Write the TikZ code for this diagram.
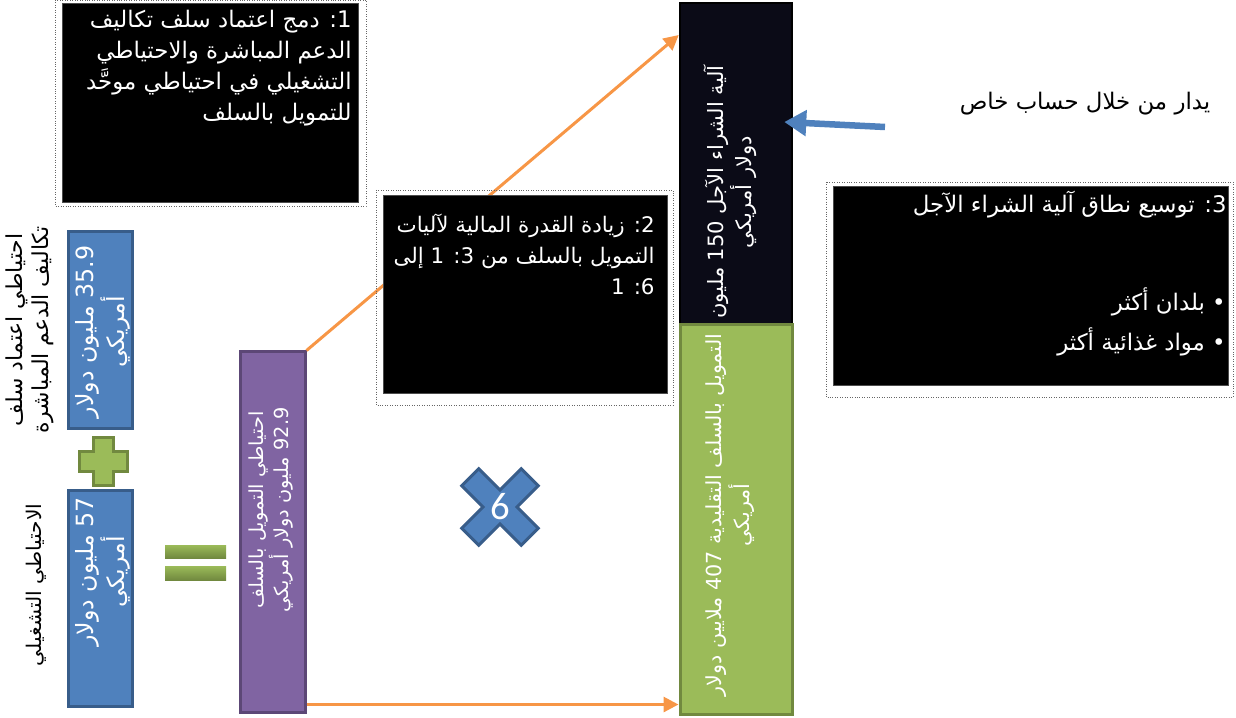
\documentclass[tikz,border=0pt]{standalone}
\usepackage{fontspec}
\usetikzlibrary{arrows.meta,positioning}
\TeXXeTstate=1
\setmainfont{DejaVu Sans}
\newfontfamily\arabicfont[Script=Arabic]{DejaVu Sans}
\newfontfamily\numfont{Carlito}
\newcommand\artext[1]{\beginR #1\endR}
\definecolor{boxblue}{HTML}{4F81BD}
\definecolor{boxblueline}{HTML}{385D8A}
\definecolor{boxpurple}{HTML}{8064A2}
\definecolor{boxpurpleline}{HTML}{5C4776}
\definecolor{boxgreen}{HTML}{9BBB59}
\definecolor{boxgreenline}{HTML}{71893F}
\definecolor{arroworange}{HTML}{F79646}
\definecolor{mechfill}{HTML}{0B0B17}

\begin{document}
\begin{tikzpicture}[x=0.2mm,y=-0.2mm,
  notebox/.style={fill=black,draw=black!70,inner sep=0pt},
  noteframe/.style={draw=black!60,densely dotted},
  notetext/.style={text=white,align=right,inner sep=0pt,
    font=\arabicfont\fontsize{13}{17.6}\selectfont},
  valuebox/.style={fill=#1,draw=#1line,line width=0.6mm,inner sep=0pt},
  valuetext/.style={text=white,rotate=90,align=center,inner sep=0pt,
    font=\arabicfont\fontsize{#1}{14}\selectfont},
  valuetext/.default=11,
  sidetext/.style={rotate=90,align=center,inner sep=0pt,
    font=\arabicfont\fontsize{#1}{15}\selectfont},
  sidetext/.default=12,
  flow/.style={draw=arroworange,line width=0.6mm,-{Triangle[width=3mm,length=3mm]}},
  feed/.style={draw=boxblue,line width=1.3mm,-{Triangle[width=5mm,length=4.4mm]}},
  mathmark/.style={fill=boxgreen,draw=boxgreenline,line width=0.6mm}]
\useasboundingbox (0,0) rectangle (1236,717);

% left: the two reserves
\node[valuebox=boxblue,minimum width=12.8mm,minimum height=39.2mm] (dsc) at (100,330) {};
\node[valuetext=13.5] at (103,332) {\artext{35.9 مليون دولار}\\\artext{أمريكي}};
\node[sidetext=12.5] (dsclabel) at (30,330) {\artext{احتياطي اعتماد سلف}\\\artext{تكاليف الدعم المباشرة}};

\node[valuebox=boxblue,minimum width=12.8mm,minimum height=43.2mm] (ops) at (100,598) {};
\node[valuetext=13.5] at (103,572) {\artext{57 مليون دولار}\\\artext{أمريكي}};
\node[sidetext=11.5] (opslabel) at (36,585) {\artext{الاحتياطي التشغيلي}};

% plus
\draw[mathmark] (93,437) -- (113,437) -- (113,451) -- (127,451) -- (127,471) -- (113,471)
  -- (113,485) -- (93,485) -- (93,471) -- (79,471) -- (79,451) -- (93,451) -- cycle;

% equals
\shade[top color=boxgreen,bottom color=boxgreenline] (165,545) rectangle (226,558);
\shade[top color=boxgreen,bottom color=boxgreenline] (165,566) rectangle (226,580);

% merged reserve
\node[valuebox=boxpurple,minimum width=13mm,minimum height=72mm] (afr) at (272.5,532) {};
\node[valuetext] at (271,510) {\artext{احتياطي التمويل بالسلف}\\\artext{92.9 مليون دولار أمريكي}};

% right: the bar
\node[fill=mechfill,draw=black,line width=0.5mm,minimum width=22.4mm,minimum height=64.4mm] (mech) at (736,164) {};
\node[valuetext=12] at (730,192) {\artext{آلية الشراء الآجل 150 مليون}\\\artext{دولار أمريكي}};
\node[valuebox=boxgreen,minimum width=22.4mm,minimum height=77.8mm] (trad) at (736,519.5) {};
\node[valuetext=11.8] at (730,515) {\artext{التمويل بالسلف التقليدية 407 ملايين دولار}\\\artext{أمريكي}};

% connectors
\coordinate (lowout) at ([yshift=1.8mm]afr.south east);
\draw[flow] (afr.north east) -- ([yshift=25.8mm]mech.west);
\draw[flow] (lowout) -- (lowout -| trad.west);
\coordinate (acct) at (885,127);
\draw[feed] (acct) -- ([shift={(-1.8mm,8.4mm)}]mech.east);
\node[font=\arabicfont\fontsize{13}{16}\selectfont] (acctlabel) at (1085,104) {\artext{يدار من خلال حساب خاص}};

% times six
\draw[mathmark,fill=boxblue,draw=boxblueline,shift={(500,507)},rotate=45]
  (-12,-42) -- (12,-42) -- (12,-12) -- (42,-12) -- (42,12) -- (12,12) -- (12,42)
  -- (-12,42) -- (-12,12) -- (-42,12) -- (-42,-12) -- (-12,-12) -- cycle;
\node[text=white,font=\numfont\fontsize{22}{22}\selectfont] (times) at (500,507) {6};

% notes
\draw[noteframe] (55,0) rectangle (366,206);
\node[notebox,minimum width=59.2mm,minimum height=39.8mm] (note1) at (210,102.5) {};
\node[notetext,anchor=north east] at (352,10) {\artext{1\kern0pt: دمج اعتماد سلف تكاليف}\\\artext{الدعم المباشرة والاحتياطي}\\\artext{التشغيلي في احتياطي موحَّد}\\\artext{للتمويل بالسلف}};

\draw[noteframe] (376,190) rectangle (673,405);
\node[notebox,minimum width=56.8mm,minimum height=39.6mm] (note2) at (525,294) {};
\node[notetext,font=\arabicfont\fontsize{12.2}{17.6}\selectfont,anchor=north east] at (655,214) {\artext{2\kern0pt: زيادة القدرة المالية لآليات}\\\artext{التمويل بالسلف من 3\kern0pt: 1 إلى}\\\artext{6\kern0pt: 1}};

\draw[noteframe] (826,182) rectangle (1233,397);
\node[notebox,minimum width=79mm,minimum height=39.8mm] (note3) at (1030.5,285.5) {};
\node[notetext,anchor=north east] at (1227,191) {\artext{3\kern0pt: توسيع نطاق آلية الشراء الآجل}};
\node[notetext,anchor=east] (bullet1) at (1226,302) {\artext{•\ بلدان أكثر}};
\node[notetext,anchor=east] (bullet2) at (1226,342) {\artext{•\ مواد غذائية أكثر}};
\end{tikzpicture}
\end{document}
